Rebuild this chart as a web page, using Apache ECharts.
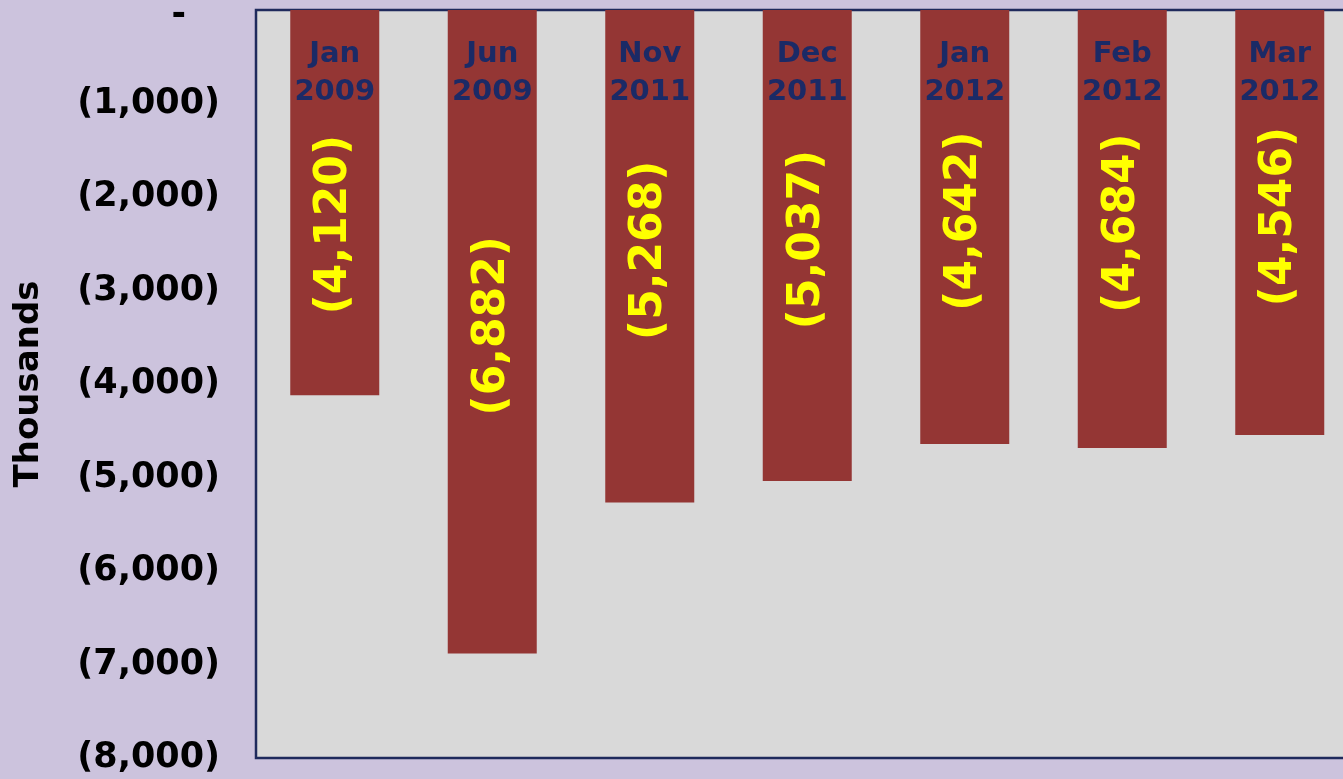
<!DOCTYPE html>
<html>
<head>
<meta charset="utf-8">
<script src="https://cdn.jsdelivr.net/npm/echarts@6/dist/echarts.min.js"></script>
<style>
  html, body { margin: 0; padding: 0; background: #CCC3DD; }
  #chart { width: 1343px; height: 779px; }
</style>
</head>
<body>
<div id="chart"></div>
<script>
// Monthly change, in thousands
const categories = ['Jan\n2009', 'Jun\n2009', 'Nov\n2011', 'Dec\n2011', 'Jan\n2012', 'Feb\n2012', 'Mar\n2012'];
const values = [-4120, -6882, -5268, -5037, -4642, -4684, -4546];
const yTicks = [0, -1000, -2000, -3000, -4000, -5000, -6000, -7000, -8000];

const FONT = '"DejaVu Sans", Verdana, sans-serif';

function withCommas(n) {
  return String(Math.round(Math.abs(n))).replace(/\B(?=(\d{3})+(?!\d))/g, ',');
}
function accounting(v) {
  if (v === 0) return '{dash|-}';
  return v < 0 ? '(' + withCommas(v) + ')' : withCommas(v);
}

// Label offsets are in the rotated text frame: +x moves the text up the bar.
// The first bar's value label sits lower, clear of the category text.
const barData = values.map((v, i) => i === 0
  ? { value: v, label: { offset: [-22, 0] } }
  : { value: v });

const chart = echarts.init(document.getElementById('chart'));
chart.setOption({
  backgroundColor: '#CCC3DD',
  animation: false,
  grid: {
    left: 256, top: 10, width: 1102.5, height: 748,
    outerBoundsMode: 'none',
    containLabel: false,
    show: true,
    backgroundColor: '#D9D9D9',
    borderColor: '#1F2A5C',
    borderWidth: 2.5
  },
  xAxis: {
    type: 'category',
    data: categories,
    position: 'top',
    axisLine: { show: false },
    axisTick: { show: false },
    splitLine: { show: false },
    axisLabel: {
      inside: true,
      margin: 25,
      color: '#1B2A66',
      fontFamily: FONT,
      fontWeight: 'bold',
      fontSize: 29,
      lineHeight: 38,
      align: 'center'
    },
    z: 10
  },
  yAxis: {
    type: 'value',
    min: -8000,
    max: 0,
    interval: 1000,
    name: 'Thousands',
    nameLocation: 'middle',
    nameGap: 210,
    nameRotate: 90,
    nameTextStyle: {
      color: '#000000',
      fontFamily: FONT,
      fontWeight: 'bold',
      fontSize: 34
    },
    axisLine: { show: false },
    axisTick: { show: false },
    splitLine: { show: false },
    axisLabel: {
      margin: 36,
      color: '#000000',
      fontFamily: FONT,
      fontWeight: 'bold',
      fontSize: 35,
      formatter: accounting,
      rich: {
        dash: {
          color: '#000000',
          fontFamily: FONT,
          fontWeight: 'bold',
          fontSize: 35,
          padding: [12, 34, 0, 0]
        }
      }
    }
  },
  series: [{
    type: 'bar',
    data: barData,
    barWidth: 89,
    itemStyle: { color: '#943634' },
    label: {
      show: true,
      position: 'inside',
      rotate: 90,
      offset: [6, 0],
      color: '#FFFF00',
      fontFamily: FONT,
      fontWeight: 'bold',
      fontSize: 44,
      formatter: p => accounting(p.value)
    }
  }]
});
</script>
</body>
</html>
